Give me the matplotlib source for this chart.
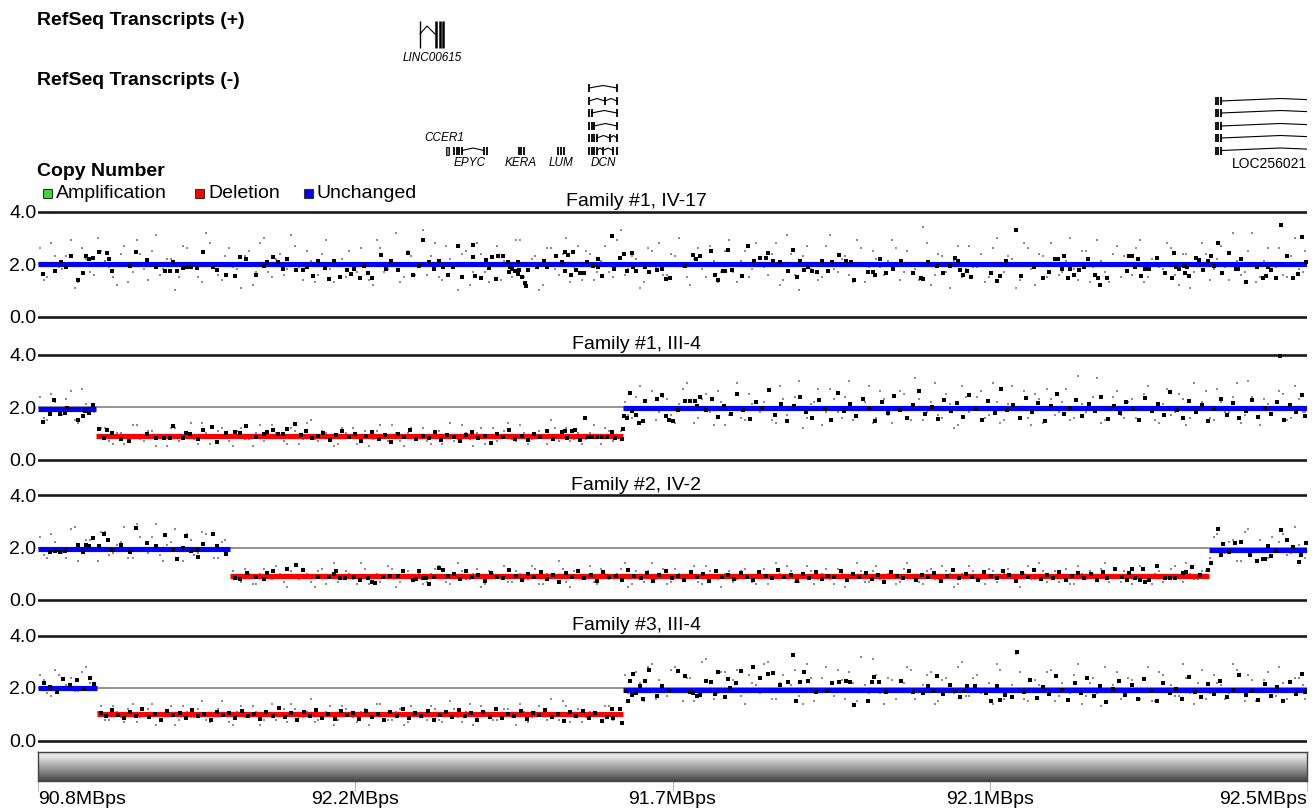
import numpy as np
import matplotlib
matplotlib.use('Agg')
import matplotlib.pyplot as plt
from matplotlib.patches import Rectangle

plt.rcParams['font.family'] = ['Liberation Sans', 'DejaVu Sans']

W, H = 1315, 809
X0, X1 = 38, 1307

# ------------------------------------------------------------------ data
panel_titles = ['Family #1, IV-17', 'Family #1, III-4', 'Family #2, IV-2', 'Family #3, III-4']
x_tick_labels = ['90.8MBps', '92.2MBps', '91.7MBps', '92.1MBps', '92.5MBps']
y_ticks = [0.0, 2.0, 4.0]
y_tick_labels = ['0.0', '2.0', '4.0']
legend_labels = ['Amplification', 'Deletion', 'Unchanged']
legend_states = ['A', 'D', 'U']
state_colors = {'A': '#33dd33', 'D': '#ff0000', 'U': '#0000ff'}

# segments: (start, end, copy number, state)
segments = [
    [(38, 1307, 2.00, 'U')],
    [(38, 96, 1.92, 'U'), (96, 623, 0.88, 'D'), (623, 1307, 1.96, 'U')],
    [(38, 230, 1.96, 'U'), (230, 1209, 0.92, 'D'), (1209, 1307, 1.92, 'U')],
    [(38, 97, 2.00, 'U'), (97, 623, 1.00, 'D'), (623, 1307, 1.93, 'U')],
]

probe_pos = [40,47,55,62,71,78,86,94,101,109,117,124,133,140,148,156,163,171,179,187,
             194,202,210,218,225,233,241,249,256,264,272,280,287,295,303,311,318,326,334,342,
             349,357,365,373,380,388,396,404,411,419,427,435,442,450,458,466,473,481,489,497,
             504,512,520,528,535,543,551,559,566,574,582,590,597,605,613,621,628,636,644,652,
             659,667,675,683,690,698,706,714,721,729,737,745,752,760,768,776,783,791,799,807,
             814,822,830,838,845,853,861,869,876,884,892,900,907,915,923,931,938,946,954,962,
             969,977,985,993,1000,1008,1016,1024,1031,1039,1047,1055,1062,1070,1078,1086,1093,1101,1109,1117,
             1124,1132,1140,1148,1155,1163,1171,1179,1186,1194,1202,1210,1217,1225,1233,1241,1248,1256,1264,1272,
             1279,1287,1295,1303]
probe_pos_b = [44,51,59,66,75,82,90,98,105,113,121,128,137,144,152,160,167,175,183,191,
               198,206,214,222,229,237,245,253,260,268,276,284,291,299,307,315,322,330,338,346,
               353,361,369,377,384,392,400,408,415,423,431,439,446,454,462,470,477,485,493,501,
               508,516,524,532,539,547,555,563,570,578,586,594,601,609,617,625,632,640,648,656,
               663,671,679,687,694,702,710,718,725,733,741,749,756,764,772,780,787,795,803,811,
               818,826,834,842,849,857,865,873,880,888,896,904,911,919,927,935,942,950,958,966,
               973,981,989,997,1004,1012,1020,1028,1035,1043,1051,1059,1066,1074,1082,1090,1097,1105,1113,1121,
               1128,1136,1144,1152,1159,1167,1175,1183,1190,1198,1206,1214,1221,1229,1237,1245,1252,1260,1268,1276,
               1283,1291,1299,1305]

p1_small = [2.6,1.5,2.3,1.8,2.9,1.3,2.2,1.6,2.5,1.9, 1.2,2.7,1.7,2.4,1.4,3.1,1.8,2.2,1.5,2.6,
            2.0,1.3,2.8,1.6,2.3,1.9,1.1,2.5,1.7,3.0, 1.5,2.4,1.8,2.7,1.4,2.1,1.6,2.9,1.3,2.2,
            2.5,1.7,2.0,1.2,2.6,1.8,3.2,1.5,2.3,1.9, 1.6,2.8,1.4,2.2,1.0,2.5,1.7,2.4,1.3,2.7,
            2.1,1.5,2.9,1.8,2.3,1.2,2.6,1.6,3.0,1.9, 1.4,2.4,1.7,2.7,1.5,3.3,1.8,2.2,1.3,2.5,
            2.8,1.6,2.3,1.9,1.2,2.6,1.5,2.1,1.7,2.9, 1.3,2.5,1.8,2.2,1.6,2.8,1.4,2.4,1.0,2.7,
            2.0,1.5,3.1,1.7,2.3,1.3,2.6,1.9,2.2,1.6, 2.9,1.4,2.5,1.8,3.4,1.2,2.4,1.7,2.1,1.5,
            2.7,1.9,1.3,2.6,1.6,2.3,1.1,2.8,1.8,2.4, 1.5,2.2,1.7,3.0,1.4,2.5,1.9,2.1,1.3,2.7,
            2.3,1.6,2.9,1.5,2.0,1.8,2.6,1.2,2.4,1.7, 2.8,1.4,2.2,1.9,3.2,1.6,2.5,1.3,2.1,1.8,
            2.6,1.5,3.0,1.7]
p1_small_b = [1.4,2.8,1.9,2.3,1.1,2.6,1.7,3.0,2.1,1.5, 2.4,1.3,2.9,1.8,2.5,1.6,2.2,1.0,2.7,1.9,
              1.5,3.2,2.0,1.4,2.6,1.8,2.3,1.2,2.8,1.7, 2.2,1.6,3.1,1.9,2.5,1.3,2.4,1.8,2.0,1.5,
              1.8,2.6,1.4,2.9,1.7,2.1,1.3,2.5,1.6,3.3, 2.3,1.5,2.7,1.9,2.4,1.2,2.8,1.7,2.0,1.4,
              1.7,2.9,1.5,2.2,1.0,2.6,1.8,2.4,1.3,2.7, 2.5,1.4,2.1,1.7,2.9,1.6,2.3,1.1,2.6,1.9,
              1.6,2.4,3.0,1.5,2.2,1.8,2.7,1.3,2.5,1.7, 2.1,1.5,2.8,1.9,2.4,1.2,3.1,1.6,2.3,1.8,
              1.4,2.7,1.8,2.2,1.6,2.9,1.3,2.5,1.9,2.1, 2.6,1.7,2.0,1.4,2.8,1.6,2.3,1.1,2.7,1.8,
              1.9,2.4,1.5,3.0,1.7,2.2,1.4,2.6,1.2,2.3, 2.8,1.6,2.1,1.8,2.5,1.3,2.9,1.7,2.4,1.5,
              1.7,2.6,1.3,2.2,1.9,2.8,1.6,2.4,1.1,2.0, 2.4,1.8,2.7,1.4,2.1,1.7,3.2,1.5,2.6,1.9,
              1.6,2.3,1.8,2.5]
p2_small = [2.4,1.5,2.2,1.7,2.6,1.4,2.1,1.8,1.2,0.7, 1.0,0.6,1.3,0.8,1.1,0.5,0.9,1.2,0.7,1.0,
            0.8,1.4,0.6,1.1,0.9,0.5,1.2,0.8,1.0,0.7, 1.3,0.9,0.6,1.1,0.8,1.5,0.7,1.0,0.5,1.2,
            0.9,0.6,1.1,0.8,1.3,0.7,1.0,0.5,1.2,0.9, 0.7,1.1,0.6,1.4,0.8,1.0,0.5,1.2,0.9,0.7,
            1.1,0.8,1.3,0.6,1.0,0.9,1.5,0.7,1.2,0.8, 0.6,1.0,0.9,1.2,0.7,1.1,1.7,2.4,1.5,2.6,
            1.8,2.3,1.4,2.7,1.9,1.6,2.5,1.3,2.2,1.7, 2.9,1.5,2.1,1.8,2.6,1.4,2.3,1.9,3.0,1.6,
            2.2,1.3,2.7,1.8,2.4,1.5,2.0,2.8,1.6,2.3, 1.4,2.6,1.9,3.1,1.5,2.2,1.7,2.5,1.2,2.8,
            1.8,2.4,1.6,2.9,1.4,2.1,1.9,2.6,1.3,2.3, 2.7,1.7,2.2,1.5,3.2,1.8,2.4,1.4,2.0,2.6,
            1.6,2.3,1.9,2.8,1.5,2.1,1.7,2.5,1.3,2.9, 2.2,1.6,2.7,1.8,2.4,1.4,3.0,1.9,2.3,1.7,
            2.6,1.5,2.8,1.8]
p2_small_b = [1.6,2.5,1.8,2.3,1.5,2.7,2.0,0.9,1.2,0.6, 1.0,0.8,1.3,0.7,1.1,0.9,0.5,1.2,0.8,1.4,
              0.6,1.0,0.9,1.2,0.7,1.1,0.8,0.5,1.3,0.9, 1.0,0.7,1.2,0.6,1.4,0.8,1.1,0.9,0.6,1.0,
              1.2,0.8,0.5,1.1,0.9,1.3,0.7,1.0,0.8,1.2, 0.6,1.1,0.9,0.7,1.3,0.8,1.0,0.6,1.2,0.9,
              1.4,0.7,1.0,0.8,1.1,0.6,1.2,0.9,0.7,1.0, 0.8,1.3,0.6,1.1,0.9,2.2,1.6,2.8,1.9,1.5,
              2.4,1.7,2.1,2.9,1.4,2.3,1.8,2.6,1.3,2.0, 1.6,2.5,1.9,2.2,1.5,2.8,1.7,2.4,1.2,2.1,
              2.7,1.8,2.3,1.6,3.0,1.9,2.2,1.4,2.6,1.7, 2.0,2.5,1.5,2.3,1.8,2.9,1.6,2.1,1.3,2.4,
              1.9,2.6,1.7,2.2,1.5,2.8,2.0,1.6,2.5,1.4, 2.3,1.8,2.7,1.6,2.1,1.9,3.1,1.5,2.4,1.7,
              2.2,1.6,2.5,1.9,1.4,2.7,1.8,2.3,1.6,2.0, 2.6,1.5,2.2,1.8,2.9,1.7,2.4,1.3,2.1,1.9,
              2.5,1.6,2.3,1.8]
p3_small = [2.4,1.6,2.2,1.8,2.7,1.5,2.3,1.9,2.6,1.7, 2.1,2.8,1.6,2.4,1.8,2.9,1.5,2.2,1.9,2.5,
            1.7,2.6,2.0,1.6,2.3,1.1,0.7,1.0,0.6,1.2, 0.8,1.0,0.5,1.3,0.9,0.7,1.1,0.6,1.4,0.8,
            1.0,0.6,1.2,0.9,0.7,1.3,0.5,1.1,0.8,1.0, 0.7,1.2,0.9,0.6,1.4,0.8,1.0,0.5,1.1,0.9,
            1.3,0.7,1.0,0.8,1.2,0.6,0.9,1.5,0.7,1.1, 0.8,1.3,0.6,1.0,0.9,1.2,0.5,1.1,0.7,1.4,
            0.9,0.6,1.2,0.8,1.0,0.7,1.3,0.9,0.5,1.1, 0.8,1.2,0.7,1.0,0.6,1.4,0.9,1.1,0.7,1.3,
            0.6,1.0,0.8,1.2,0.5,0.9,1.1,0.7,1.3,0.8, 1.0,0.7,1.4,0.9,0.6,1.2,0.8,1.1,0.5,1.0,
            1.3,0.8,0.6,1.1,0.9,1.2,0.7,1.0,0.8,1.4, 0.7,1.1,0.9,0.6,1.3,0.8,1.0,1.2,0.7,0.9,
            1.1,0.6,1.3,0.8,1.0,0.7,1.2,0.9,1.4,0.8, 1.1,1.6,2.5,1.8,2.3,1.5,2.7,1.9,1.6,2.4,
            2.2,1.7,2.8,1.9]
p3_small_b = [1.7,2.5,2.0,1.6,2.8,1.9,2.3,1.5,2.6,1.8, 2.2,1.6,2.9,1.9,2.4,1.7,2.1,2.7,1.5,2.3,
              1.8,2.5,1.6,2.2,1.9,0.8,1.2,0.6,1.0,0.9, 1.3,0.7,1.1,0.8,1.0,0.5,1.2,0.9,0.7,1.1,
              0.8,1.4,0.6,1.0,0.9,1.2,0.7,1.1,0.8,0.6, 1.0,1.3,0.7,0.9,1.1,0.8,1.2,0.6,1.0,0.9,
              0.7,1.1,0.8,1.3,0.6,1.0,0.9,1.2,0.5,1.1, 0.9,0.7,1.2,0.8,1.0,1.4,0.6,0.9,1.1,0.8,
              1.2,0.7,1.0,0.9,1.3,0.6,1.1,0.8,1.0,0.7, 1.1,0.9,0.6,1.2,0.8,1.0,1.3,0.7,0.9,1.1,
              0.8,1.2,0.6,1.0,0.9,1.4,0.7,1.1,0.8,1.0, 0.6,1.2,0.9,0.7,1.1,0.8,1.3,1.0,0.6,0.9,
              1.1,0.8,1.2,0.7,1.0,0.9,0.5,1.3,0.8,1.1, 0.9,0.7,1.2,0.6,1.0,1.1,0.8,1.4,0.9,0.7,
              1.0,0.8,1.2,0.6,1.1,0.9,1.3,0.7,1.0,0.8, 1.1,2.4,1.7,2.2,1.5,2.6,1.9,2.3,1.6,2.0,
              2.5,1.8,2.1,1.6]
p4_small = [2.5,1.8,2.7,2.0,2.4,1.9,2.8,2.2,1.3,0.8, 1.1,0.7,1.4,0.9,1.2,0.6,1.0,1.3,0.8,1.1,
            0.9,1.5,0.7,1.2,1.0,0.6,1.3,0.9,1.1,0.8, 1.4,1.0,0.7,1.2,0.9,1.6,0.8,1.1,0.6,1.3,
            1.0,0.7,1.2,0.9,1.4,0.8,1.1,0.6,1.3,1.0, 0.8,1.2,0.7,1.5,0.9,1.1,0.6,1.3,1.0,0.8,
            1.2,0.9,1.4,0.7,1.1,1.0,1.6,0.8,1.3,0.9, 0.7,1.1,1.0,1.3,0.8,1.2,1.8,2.6,1.5,2.9,
            2.3,1.7,2.8,1.5,2.4,2.0,3.1,1.6,2.6,1.9, 2.7,1.4,2.2,1.8,3.0,1.6,2.5,2.1,1.7,2.9,
            1.5,2.4,1.9,2.7,1.6,2.2,3.2,1.8,2.5,1.4, 2.3,1.9,2.8,1.6,2.1,2.6,1.5,2.4,1.8,3.0,
            1.7,2.5,2.0,1.4,2.7,1.9,3.3,1.6,2.3,2.1, 2.6,1.5,2.2,1.8,2.9,1.7,2.4,1.3,2.0,2.6,
            1.9,2.3,1.6,2.8,1.5,2.5,2.1,1.7,2.4,1.4, 2.7,1.8,2.2,1.6,2.9,2.0,2.5,1.5,2.3,1.9,
            2.8,1.6,2.4,2.1]
p4_small_b = [2.3,1.7,2.5,2.1,1.9,2.6,2.2,1.1,0.8,1.3, 0.9,1.2,0.7,1.0,1.4,0.8,1.1,0.6,1.3,0.9,
              1.2,0.8,1.0,1.5,0.7,1.1,0.9,1.3,0.6,1.0, 0.8,1.2,1.4,0.9,1.1,0.7,1.0,1.3,0.8,1.2,
              0.9,1.1,0.6,1.4,1.0,0.8,1.2,0.7,1.1,0.9, 1.3,0.8,1.0,1.2,0.7,1.4,0.9,1.1,0.8,1.0,
              1.2,0.6,1.1,0.9,1.3,0.8,1.0,1.5,0.7,1.2, 0.9,1.1,0.8,1.3,1.0,2.5,1.7,2.2,2.8,1.6,
              2.1,2.7,1.9,2.4,1.5,3.0,2.0,1.8,2.6,2.3, 1.7,2.5,2.1,2.9,1.6,2.2,1.9,2.7,1.4,2.4,
              2.0,2.8,1.7,2.3,2.6,1.5,2.1,3.1,1.8,2.4, 1.6,2.2,2.7,1.9,2.5,1.4,2.3,2.0,2.8,1.7,
              2.4,1.8,2.2,2.9,1.6,2.1,2.6,1.5,2.3,1.9, 2.7,1.7,2.0,2.5,1.4,2.2,1.8,2.8,2.1,1.6,
              2.4,1.9,2.3,1.5,2.6,2.0,1.7,2.9,1.8,2.2, 1.6,2.5,2.1,1.8,2.7,1.5,2.3,2.0,2.6,1.7,
              2.2,1.9,2.4,1.6]

# large markers: (position, copy number)
p1_big = [(43,1.62),(55,1.72),(61,2.09),(66,1.87),(71,2.32),(78,1.38),(83,1.65),(86,2.29),(89,2.19),(93,2.22),
    (99,2.44),(107,2.41),(109,2.19),(112,1.74),(130,1.94),(136,2.47),(147,2.15),(156,1.90),(165,1.74),(170,1.74),
    (173,2.09),(177,1.72),(183,1.85),(187,1.87),(191,1.87),(197,1.85),(203,2.47),(213,1.87),(217,1.78),(226,1.58),
    (235,1.54),(240,2.26),(246,2.18),(256,1.60),(264,1.94),(267,2.06),(273,2.26),(278,2.06),(283,1.82),(287,2.18),
    (296,1.78),(303,1.78),(307,1.87),(313,1.54),(318,2.13),(325,1.85),(329,1.42),(334,2.13),(340,1.51),(347,1.78),
    (351,1.62),(354,1.81),(360,1.46),(364,1.94),(368,1.67),(372,1.46),(381,2.33),(386,1.82),(391,2.10),(398,1.78),
    (408,2.42),(413,1.58),(419,1.91),(423,2.92),(429,2.06),(434,1.81),(439,2.13),(443,1.90),(448,1.58),
    (453,1.90),(458,2.67),(462,1.49),(473,2.74),(473,2.26),(475,1.55),(481,1.46),(486,2.15),(489,1.85),(492,2.28),
    (496,1.42),(498,2.32),(503,2.29),(508,2.06),(510,1.90),(512,1.81),(509,1.68),(515,1.74),(518,1.62),(518,2.06),
    (519,1.77),(522,1.49),(525,1.26),(526,1.17),(528,1.77),(537,1.87),(544,2.13),(547,1.90),(556,2.32),(562,2.06),
    (565,1.72),(565,2.45),(568,2.36),(573,2.44),(571,1.58),(576,1.77),(580,1.64),(584,1.67),(587,2.06),(593,1.94),
    (598,2.18),(598,1.90),(602,1.55),(612,3.05),(614,1.81),(620,2.22),(624,2.38),(627,1.74),(632,2.41),(633,1.90),
    (636,1.72),(645,1.90),(649,1.71),(657,1.79),(662,1.82),(666,1.42),(670,1.46),(685,1.94),(693,2.36),(696,2.19),
    (700,2.29),(711,2.49),(715,1.58),(718,1.38),(723,1.72),(725,1.72),(728,2.55),(732,1.77),(742,1.55),(748,2.68),
    (754,2.13),(760,2.22),(766,2.22),(768,2.42),(773,2.10),(780,2.06),(788,1.72),(793,2.54),(797,1.51),(800,2.13),
    (804,1.77),(808,1.90),(812,1.72),(817,1.71),(822,2.10),(828,1.74),(832,2.06),(839,2.36),(846,2.10),(851,2.06),
    (854,1.38),(868,1.68),(873,1.71),(875,1.58),
    (880,2.19),(886,1.64),(893,1.82),(901,2.10),(913,1.67),(921,1.46),(923,1.42),(928,2.06),(937,1.94),(943,1.65),
    (950,1.94),(955,2.23),(958,2.13),(960,1.78),(963,1.58),(967,1.74),(971,1.51),(991,1.65),(997,1.36),(1000,1.54),
    (1006,2.13),(1016,3.28),(1021,1.54),(1034,1.87),(1043,1.46),(1049,1.68),(1055,2.18),(1058,2.18),(1062,1.82),(1064,2.29),
    (1068,1.46),(1070,1.82),(1074,1.58),(1079,1.78),(1084,1.90),(1088,2.19),(1095,1.58),(1098,1.46),(1100,1.21),(1107,1.46),
    (1127,1.72),(1129,2.32),(1132,2.32),(1135,1.87),(1138,2.18),(1141,1.54),(1145,1.81),(1149,1.82),(1157,2.22),(1165,1.65),
    (1172,1.46),(1174,2.41),(1176,1.90),(1179,1.82),(1184,1.94),(1185,1.67),(1187,1.90),(1189,1.56),(1196,2.22),(1199,2.15),
    (1203,1.78),(1208,2.10),(1211,2.32),(1214,1.94),(1218,2.81),(1222,1.65),(1229,2.42),(1236,1.82),(1238,1.82),(1241,2.18),
    (1246,1.32),(1257,1.90),(1263,1.46),(1266,1.54),(1268,1.90),(1271,1.78),(1276,1.46),(1281,3.50),(1287,2.32),(1293,1.46),
    (1298,1.62),(1302,3.03),(1306,2.06)]

p2_big = [(43,1.44),(50,1.74),(54,2.26),(60,1.72),(65,1.77),(67,1.96),(78,1.49),(83,1.67),(85,1.83),(89,1.77),(93,2.08),
    (99,1.15),(104,0.81),(107,1.13),(112,1.01),(121,0.77),(129,0.69),(147,0.97),(156,0.81),(164,0.81),(170,0.83),
    (173,1.28),(183,0.83),(186,1.00),(190,0.97),(198,0.79),(203,1.13),(212,1.22),(217,0.68),(226,1.00),(235,1.03),
    (240,1.00),(246,1.26),(256,0.85),(264,0.97),(267,1.06),(273,1.13),(278,0.96),(283,0.96),(287,1.17),(295,1.36),
    (301,0.95),(306,1.08),(312,0.82),(318,0.90),(323,1.02),(330,0.76),(336,0.94),(342,1.10),(349,0.85),(355,0.97),
    (361,0.72),(366,0.88),(372,1.05),(379,0.80),(385,0.93),(391,0.67),(398,0.99),(404,0.86),(410,1.14),(416,0.78),
    (423,0.91),(429,0.83),(435,1.03),(441,0.74),(447,0.95),(454,0.87),(460,0.70),(466,0.92),(472,1.06),(478,0.81),
    (485,0.89),(491,0.64),(497,0.96),(503,0.84),(509,1.12),(515,0.79),(522,0.90),(528,0.73),(534,0.98),(540,0.86),
    (547,1.08),(553,0.77),
    (562,1.06),(565,1.10),(567,0.81),(572,1.10),(575,1.13),(580,0.74),(585,1.58),(588,0.87),(592,0.87),(597,0.87),
    (602,0.87),(607,0.87),(612,1.06),(615,0.81),(622,0.77),(623,1.15),
    (624,1.64),(627,1.58),(630,2.54),(632,1.83),(636,1.71),(639,1.38),(643,1.47),(645,2.22),(657,2.31),(662,2.47),
    (666,1.64),(669,1.51),(673,1.47),(678,1.87),(685,2.22),(690,2.22),(695,2.22),(697,2.05),(700,2.37),(706,1.87),
    (712,2.30),(718,1.62),(724,2.05),(731,1.74),(737,2.48),(743,1.88),(750,1.55),(756,2.20),(762,1.95),(769,2.65),
    (775,1.70),(781,2.12),(787,1.45),(794,2.02),(800,2.38),(806,1.80),(812,1.60),(819,2.25),(825,1.92),(831,1.52),
    (838,2.55),(844,1.85),(850,2.10),(856,1.66),(863,2.32),(869,1.98),(875,1.48),(882,2.18),(888,1.78),(894,2.42),
    (900,1.90),(907,1.58),(913,2.08),(919,2.60),(925,1.72),(932,2.00),(938,1.54),(944,2.28),(951,1.84),(957,2.14),
    (963,1.62),(969,2.44),(976,1.94),(982,1.50),(988,2.22),(995,1.76),(1001,2.70),(1007,1.88),(1013,2.06),(1020,1.58),
    (1026,2.34),(1032,1.82),(1038,2.16),(1045,1.46),(1051,2.02),(1057,2.50),(1064,1.74),(1070,1.96),(1076,2.26),(1082,1.64),
    (1089,2.10),(1095,1.86),(1101,2.40),(1108,1.56),(1114,2.04),(1120,1.78),(1126,2.20),(1133,1.92),(1139,1.52),(1145,2.36),
    (1152,1.84),(1158,2.12),(1164,1.68),(1170,2.58),(1177,1.90),(1183,1.60),(1189,2.24),(1196,1.80),(1202,2.08),(1208,1.48),
    (1214,1.94),(1221,2.30),(1227,1.70),(1233,2.14),(1239,1.58),(1246,1.86),(1252,2.28),(1258,1.62),(1265,1.98),(1271,1.74),
    (1277,2.18),(1280,3.95),(1284,1.52),(1290,2.06),(1296,1.80),(1302,2.44),(1305,1.66)]

p3_big = [(50,1.83),(55,1.87),(60,1.81),(65,1.87),(78,2.10),(83,1.81),(86,2.09),(89,2.06),(93,2.35),(99,2.06),
    (104,2.51),(108,2.29),(112,1.90),(121,2.09),(130,1.81),(136,2.73),(147,2.19),(156,2.06),(165,2.47),(173,1.90),
    (177,1.55),(183,2.00),(186,2.45),(191,1.87),(197,1.90),(198,1.65),(203,2.12),(213,2.51),(217,2.06),(226,1.77),
    (235,0.85),(240,0.81),(247,1.01),(256,0.87),(264,0.81),(267,1.04),(273,1.10),(287,1.17),(296,1.32),(303,1.13),
    (318,0.87),(329,0.87),(334,1.00),(336,1.10),(340,0.85),(345,0.82),(354,0.87),(360,0.78),(368,0.85),(372,0.68),
    (375,0.63),(383,0.88),(390,0.91),(398,0.91),(403,1.10),(413,0.78),(416,0.81),(419,1.10),(423,0.85),(426,0.82),
    (429,0.62),(434,0.87),(439,1.23),(443,1.14),(448,0.91),
    (454,0.98),(460,0.80),(466,1.10),(472,0.87),(478,0.95),(485,0.72),(491,1.04),(497,0.88),(503,0.83),(509,1.16),
    (516,0.92),(522,0.76),(528,1.00),(534,0.86),(541,1.08),(547,0.79),(553,0.94),(559,0.70),(566,1.02),(572,0.89),
    (578,1.12),(584,0.82),(591,0.96),(597,0.74),(603,1.06),(609,0.88),(616,0.93),(622,0.78),(628,1.14),(634,0.90),
    (641,0.84),(647,1.01),(653,0.73),(659,0.97),(666,1.09),(672,0.85),(678,0.92),(684,0.77),(691,1.05),(697,0.87),
    (703,0.99),(709,0.71),(716,1.11),(722,0.89),(728,0.94),(734,0.80),(741,1.03),(747,0.86),(753,0.75),(759,1.07),
    (766,0.91),(772,0.83),(778,1.15),(784,0.88),(791,0.96),(797,0.72),(803,1.00),(809,0.85),(816,1.08),(822,0.79),
    (828,0.93),(834,0.87),(841,1.12),(847,0.76),(853,0.98),(859,0.89),(866,1.04),(872,0.81),(878,0.95),(884,0.70),
    (891,1.06),(897,0.90),(903,0.84),(909,1.10),(916,0.78),(922,0.97),(928,0.86),(934,1.02),(941,0.74),(947,0.92),
    (953,1.13),(959,0.83),(966,0.99),(972,0.88),(978,0.77),(984,1.05),(991,0.90),(997,0.82),(1003,1.09),(1009,0.94),
    (1016,0.73),(1022,1.01),(1028,0.87),(1034,1.16),(1041,0.80),(1047,0.96),(1053,0.85),(1059,1.07),(1066,0.78),(1072,0.93),
    (1078,1.03),(1084,0.84),(1091,0.98),(1097,0.75),(1103,1.06),
    (1107,0.82),(1115,1.17),(1122,0.86),(1127,0.78),(1129,1.04),(1132,1.17),(1135,0.82),(1140,0.76),(1143,1.17),(1145,0.69),
    (1149,0.78),(1157,1.29),(1165,0.85),(1170,0.85),(1175,0.82),(1183,1.04),(1186,1.08),(1192,1.27),(1200,0.95),(1208,1.14),
    (1211,1.40),(1218,2.71),(1221,1.72),(1223,2.13),(1229,1.81),(1235,2.17),(1241,2.21),(1250,1.72),(1257,1.50),(1263,1.55),
    (1265,1.55),(1268,2.06),(1271,1.68),(1276,1.85),(1281,2.68),(1287,2.27),(1293,2.01),(1299,1.46),(1301,1.72),(1306,2.17)]

p4_big = [(44,2.20),(50,2.05),(57,1.85),(63,2.35),(70,2.10),(77,2.30),(84,1.95),(90,2.40),(94,2.15),
    (101,1.05),(106,0.92),(112,1.15),(118,0.98),(124,0.85),(130,1.08),(136,0.95),(142,1.20),(149,0.88),(155,1.02),
    (161,0.80),(167,1.12),(173,0.96),(180,1.06),(186,0.86),(192,1.18),(198,0.93),(204,1.00),(211,0.78),(217,1.10),
    (223,0.97),(229,1.04),(235,0.84),(242,1.14),(248,0.92),(254,1.01),(260,0.82),(266,1.09),(273,0.95),(279,1.22),
    (285,0.89),(291,1.03),(297,0.79),(304,1.07),(310,0.94),(316,1.16),(322,0.87),(328,1.00),(335,0.83),(341,1.11),
    (347,0.96),(353,1.05),(359,0.81),(366,1.13),(372,0.90),(378,1.02),(384,0.77),(390,1.08),(397,0.95),(403,1.19),
    (409,0.86),(415,1.04),(421,0.92),(428,1.12),(434,0.80),(440,0.99),(446,1.07),(452,0.88),(459,1.15),(465,0.94),
    (471,1.03),(477,0.78),(483,1.10),(490,0.91),(496,1.21),(502,0.85),(508,1.00),(514,0.93),(521,1.14),(527,0.82),
    (533,1.06),(539,0.97),(545,1.17),(552,0.89),(558,1.02),(564,0.76),(570,1.09),(576,0.92),(583,1.13),(589,0.84),
    (595,1.05),(602,0.74),(607,0.91),(612,1.19),(613,0.87),(620,1.19),(622,0.68),
    (626,1.90),(628,1.51),(630,2.28),(632,1.73),(633,2.54),(636,1.81),(640,2.09),(643,1.60),(645,2.28),(649,2.69),
    (657,1.68),(662,2.09),(669,1.90),(678,2.64),(685,2.47),(690,1.83),(693,1.81),(697,1.71),(700,1.73),(706,2.28),
    (711,2.22),(715,1.77),(718,2.60),(725,1.64),(728,2.35),(730,1.99),(736,2.19),(741,2.64),(753,2.79),(760,2.37),
    (768,2.54),(773,2.56),(780,2.12),(788,2.22),(793,3.27),(796,1.51),(800,2.22),(804,2.60),(808,2.28),(816,1.83),
    (827,1.90),(832,2.18),(839,2.24),(846,2.26),(850,2.24),(854,1.37),(868,1.51),(872,2.24),(874,2.41),(879,2.24),
    (886,1.83),(901,2.28),(913,1.86),(923,1.81),(928,2.09),(933,1.90),(937,2.47),(943,1.77),(950,2.13),(955,1.90),
    (960,1.67),(964,1.87),(967,2.09),(975,2.09),(986,1.81),(991,1.51),(997,2.09),(1000,1.55),(1005,1.73),(1012,1.64),
    (1017,3.37),(1024,1.85),(1030,2.30),(1037,1.62),(1043,2.05),(1049,1.78),(1056,2.45),(1062,1.92),(1068,1.55),(1075,2.18),
    (1081,1.82),(1087,2.38),(1094,1.70),(1100,2.08),(1106,1.48),(1113,1.95),(1119,2.26),(1125,1.74),(1132,2.12),(1138,1.60),
    (1144,2.34),(1151,1.88),(1157,1.52),(1163,2.20),(1170,1.80),(1176,1.98),(1182,1.58),(1189,2.42),(1195,1.86),(1201,1.66),
    (1208,2.14),(1214,1.76),(1220,2.28),(1227,1.64),(1233,1.94),(1239,2.48),(1246,1.72),(1252,1.90),(1258,1.54),(1265,2.16),
    (1271,1.68),(1277,2.02),(1283,1.50),(1290,2.24),(1296,1.78),(1302,2.52),(1305,1.84)]

small_sets = [(p1_small, p1_small_b), (p2_small, p2_small_b), (p3_small, p3_small_b), (p4_small, p4_small_b)]
big_sets = [p1_big, p2_big, p3_big, p4_big]

# RefSeq transcripts (gene positions on the same axis)
plus_gene = ('LINC00615', [420, 436, 440, 443])
minus_transcripts = [  # (gene, track row, exon positions)
    ('DCN', 0, [589, 617]),
    ('DCN', 1, [589, 605, 617]),
    ('DCN', 2, [589, 591.5, 617]),
    ('DCN', 3, [589, 591.5, 594, 617]),
    ('DCN', 4, [589, 591.5, 594, 597, 610, 617]),
    ('DCN', 5, [589, 591.5, 594, 597, 603, 613, 617]),
    ('EPYC', 5, [454, 456.5, 459, 462, 484, 486.5]),
    ('KERA', 5, [519, 521, 523.5]),
    ('LUM', 5, [558, 561, 563.5]),
    ('LOC256021', 1, [1216, 1218, 1221, 1340]),
    ('LOC256021', 2, [1216, 1218, 1221, 1340]),
    ('LOC256021', 3, [1216, 1218, 1221, 1340]),
    ('LOC256021', 4, [1216, 1218, 1221, 1340]),
    ('LOC256021', 5, [1216, 1218, 1221, 1340]),
]
ccer1_pos = (446, 448.5)
gene_labels = [('CCER1', 444, 138), ('EPYC', 470, 163), ('KERA', 521, 163),
               ('LUM', 561, 163), ('DCN', 603, 163)]

# ------------------------------------------------------------------ layout
fig = plt.figure(figsize=(W / 100, H / 100), dpi=100)


def px_axes(x0, y0, x1, y1, **kw):
    a = fig.add_axes([x0 / W, 1 - y1 / H, (x1 - x0) / W, (y1 - y0) / H], **kw)
    a.patch.set_visible(False)
    return a


ov = px_axes(0, 0, W, H)
ov.set_xlim(0, W)
ov.set_ylim(H, 0)
ov.axis('off')

ov.text(37, 20, 'RefSeq Transcripts (+)', fontsize=14, fontweight='bold', va='center', ha='left')
ov.text(37, 80, 'RefSeq Transcripts (-)', fontsize=14, fontweight='bold', va='center', ha='left')
ov.text(37, 171, 'Copy Number', fontsize=14, fontweight='bold', va='center', ha='left')

leg_sq_x = [43, 195, 304]
for sx, lab, st in zip(leg_sq_x, legend_labels, legend_states):
    ov.add_patch(Rectangle((sx, 189), 9, 9, facecolor=state_colors[st], edgecolor='#333333', lw=0.8))
    ov.text(sx + 13, 193.5, lab, fontsize=14, va='center', ha='left')

# gene track
gax = px_axes(X0, 0, X1, 185)
gax.set_xlim(X0, X1)
gax.set_ylim(185, 0)
gax.axis('off')

name, ex = plus_gene
for k, xe in enumerate(ex):
    gax.plot([xe, xe], [21, 48], color='black', lw=1.0 if k == 0 else 1.8, solid_capstyle='butt')
gax.plot([ex[0], (ex[0] + ex[1]) / 2 - 1, ex[1] - 1], [34, 26, 34], color='black', lw=0.8)
gax.text(432, 58, name, fontsize=8.5, style='italic', ha='center', va='center')

row_y = [88, 101, 113, 126, 138, 150.5]
for gname, row, exons in minus_transcripts:
    y = row_y[row]
    for a, b in zip(exons[:-1], exons[1:]):
        if b - a > 4:
            m = (a + b) / 2
            gax.plot([a, m, b], [y, y - 2.5, y], color='black', lw=0.8)
    for xe in exons:
        gax.plot([xe, xe], [y - 4, y + 4], color='black', lw=1.3, solid_capstyle='butt')
gax.add_patch(Rectangle((ccer1_pos[0], 146.5), ccer1_pos[1] - ccer1_pos[0], 8,
                        facecolor='#888888', edgecolor='black', lw=0.6))
for gname, gx, gy in gene_labels:
    gax.text(gx, gy, gname, fontsize=8.5, style='italic', ha='center', va='center')
gax.text(X1, 164, 'LOC256021', fontsize=10, ha='right', va='center', clip_on=False)

# copy number panels
unit = 26.25
panel_top = [211.5, 354.5, 495, 635.5]
for i in range(4):
    y4 = panel_top[i]
    ax = px_axes(X0, y4 - 18, X1, y4 + 4 * unit + 6)
    ax.set_xlim(X0, X1)
    ax.set_ylim(-6 / unit, 4 + 18 / unit)
    for s in ax.spines.values():
        s.set_visible(False)
    ax.set_xticks([])
    ax.set_yticks(y_ticks)
    ax.set_yticklabels(y_tick_labels, fontsize=14)
    ax.tick_params(axis='y', length=0, pad=1)
    ax.axhline(4.0, color='#1a1a1a', lw=1.9, zorder=1)
    ax.axhline(0.0, color='#1a1a1a', lw=1.9, zorder=1)
    ax.axhline(2.0, color='#777777', lw=1.1, zorder=1)
    for xs, ys in [(probe_pos, small_sets[i][0]), (probe_pos_b, small_sets[i][1])]:
        n = min(len(xs), len(ys))
        ax.scatter(xs[:n], ys[:n], s=2.5, marker='s', color='#8c8c8c', linewidths=0, zorder=2)
    for (a, b, v, st) in segments[i]:
        ax.hlines(v, a, b, color=state_colors[st], lw=3.7, zorder=3)
    bx = [p[0] for p in big_sets[i]]
    by = [p[1] for p in big_sets[i]]
    ax.scatter(bx, by, s=9, marker='s', color='black', linewidths=0, zorder=4)
    ax.text(636, 4 + 10 / unit, panel_titles[i], fontsize=14, ha='center', va='center')

# position bar
bax = px_axes(X0, 752, X1, 781)
grad = np.interp(np.linspace(0, 1, 80), [0, 0.15, 0.5, 1], [0.80, 0.92, 0.66, 0.28])
bax.imshow(grad[:, None], aspect='auto', cmap='gray', vmin=0, vmax=1,
           extent=(X0, X1, 0, 1), origin='upper', interpolation='bilinear')
bax.set_xlim(X0, X1)
bax.set_ylim(0, 1)
for s in bax.spines.values():
    s.set_color('#444444')
    s.set_linewidth(1.0)
bax.set_yticks([])
bax.set_xticks(np.linspace(X0, X1, len(x_tick_labels)))
bax.set_xticklabels(x_tick_labels, fontsize=14)
bax.tick_params(axis='x', length=7, width=0.8, color='#bbbbbb', pad=0)
tl = bax.get_xticklabels()
tl[0].set_ha('left')
tl[-1].set_ha('right')

fig.savefig('out.png', dpi=100)
